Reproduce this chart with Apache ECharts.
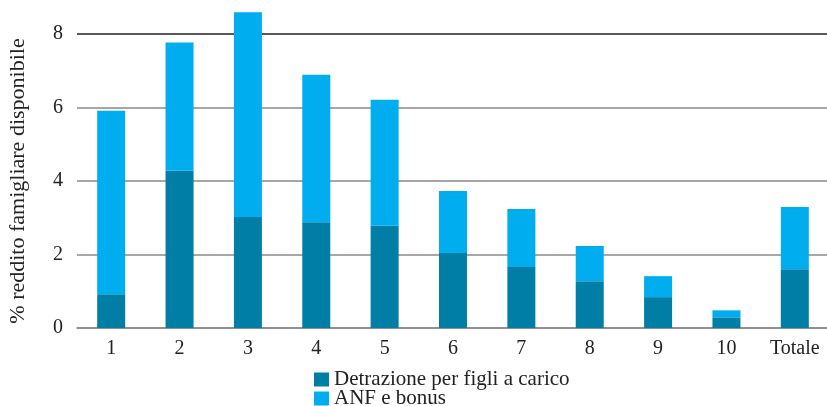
<!DOCTYPE html>
<html>
<head>
<meta charset="utf-8">
<script src="https://cdn.jsdelivr.net/npm/echarts@6/dist/echarts.min.js"></script>
<style>
  html, body { margin: 0; padding: 0; background: #fff; }
  #chart { width: 827px; height: 406px; }
</style>
</head>
<body>
<div id="chart"></div>
<script>
// Decili di reddito familiare e totale
const categories = ['1', '2', '3', '4', '5', '6', '7', '8', '9', '10', 'Totale'];
// Quota di reddito disponibile (%), componenti impilate
const detrazione = [0.92, 4.28, 3.02, 2.88, 2.78, 2.04, 1.66, 1.27, 0.84, 0.29, 1.60];
const totale = [5.91, 7.77, 8.59, 6.89, 6.21, 3.73, 3.24, 2.23, 1.41, 0.48, 3.29];
const anfBonus = totale.map((t, i) => +(t - detrazione[i]).toFixed(2));
const yTicks = [0, 2, 4, 6, 8];

const serif = '"Liberation Serif", "DejaVu Serif", serif';
const chart = echarts.init(document.getElementById('chart'), null, { renderer: 'canvas' });

chart.setOption({
  animation: false,
  textStyle: { fontFamily: serif },
  grid: { left: 77, right: -2, top: 34, bottom: 78, outerBoundsMode: 'none', containLabel: false },
  legend: {
    orient: 'vertical',
    left: 314,
    top: 369,
    height: 60,
    padding: 0,
    itemWidth: 15,
    itemHeight: 14,
    itemGap: -2,
    icon: 'rect',
    textStyle: { fontFamily: serif, fontSize: 21, lineHeight: 19, color: '#222', padding: 0 },
    data: ['Detrazione per figli a carico', 'ANF e bonus']
  },
  xAxis: {
    type: 'category',
    data: categories,
    axisTick: { show: false },
    axisLine: { show: true, lineStyle: { color: '#8a8a8a', width: 1.5 } },
    axisLabel: { fontFamily: serif, fontSize: 20, color: '#222', margin: 11 }
  },
  yAxis: {
    type: 'value',
    min: yTicks[0],
    max: yTicks[yTicks.length - 1],
    interval: 2,
    name: '% reddito famigliare disponibile',
    nameLocation: 'middle',
    nameRotate: 90,
    nameGap: 48,
    nameTextStyle: { fontFamily: serif, fontSize: 22, color: '#222' },
    axisLine: { show: false },
    axisTick: { show: false },
    axisLabel: { fontFamily: serif, fontSize: 20, color: '#222', margin: 14 },
    splitLine: {
      show: true,
      showMinLine: true,
      showMaxLine: true,
      lineStyle: { color: ['#8a8a8a', '#8a8a8a', '#8a8a8a', '#8a8a8a', '#222'], width: 1.5 }
    }
  },
  series: [
    {
      name: 'Detrazione per figli a carico',
      type: 'bar',
      stack: 'tot',
      barWidth: 28,
      clip: false,
      itemStyle: { color: '#007ea5' },
      data: detrazione
    },
    {
      name: 'ANF e bonus',
      type: 'bar',
      stack: 'tot',
      barWidth: 28,
      clip: false,
      itemStyle: { color: '#00adee' },
      data: anfBonus
    }
  ]
});
</script>
</body>
</html>
